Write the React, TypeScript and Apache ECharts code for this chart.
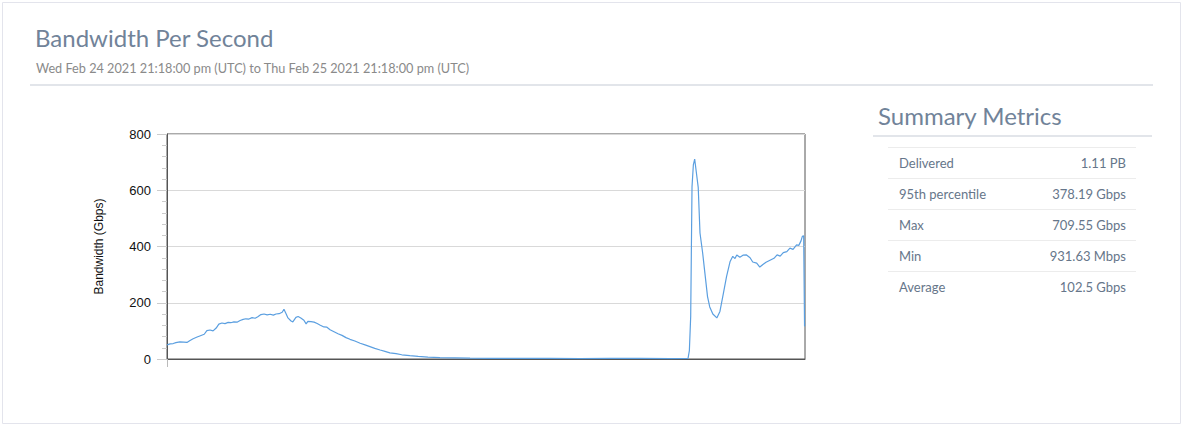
import React, { useEffect, useRef } from "react";
import * as echarts from "echarts";

const TITLE = "Bandwidth Per Second";
const SUBTITLE = "Wed Feb 24 2021 21:18:00 pm (UTC) to Thu Feb 25 2021 21:18:00 pm (UTC)";
const Y_NAME = "Bandwidth (Gbps)";
const START = Date.UTC(2021, 1, 24, 21, 18, 0);
const END = Date.UTC(2021, 1, 25, 21, 18, 0);

// minutes after START
const offsetsMin = [
  0, 7, 14, 20, 29, 38, 45, 52, 59, 68, 74, 84, 90, 97, 104, 111, 117, 124, 131, 138,
  144, 151, 158, 165, 172, 178, 185, 192, 199, 205, 212, 219, 226, 233, 240, 246, 253, 260, 264, 269,
  273, 280, 284, 291, 296, 302, 309, 314, 318, 325, 332, 339, 345, 354, 361, 368, 377, 386, 395, 404,
  413, 424, 436, 447, 458, 469, 481, 492, 503, 517, 530, 548, 567, 589, 616, 650, 684, 729, 797, 864,
  932, 1000, 1068, 1135, 1176, 1179, 1182, 1185, 1188, 1191, 1194, 1199, 1203, 1209, 1214, 1220, 1225, 1232, 1241, 1248,
  1256, 1263, 1271, 1277, 1282, 1286, 1293, 1300, 1308, 1316, 1322, 1331, 1338, 1345, 1352, 1361, 1370, 1377, 1384, 1391,
  1399, 1406, 1413, 1421, 1426, 1431, 1434, 1437, 1439,
];

// Gbps
const bandwidthGbps = [
  50, 54, 55, 58, 61, 60, 59, 66, 72, 78, 82, 88, 101, 103, 100, 110, 124, 128, 126, 130,
  129, 132, 131, 137, 141, 143, 142, 147, 145, 150, 158, 160, 157, 159, 156, 160, 161, 166, 177, 160,
  146, 135, 132, 148, 151, 146, 138, 125, 134, 133, 131, 126, 121, 114, 113, 104, 97, 90, 84, 76,
  70, 64, 56, 50, 44, 38, 32, 27, 22, 19, 15, 12, 9, 7, 5, 4, 3, 2, 2, 2,
  1.5, 2, 2, 1.5, 2, 30, 151, 613, 690, 711, 673, 610, 448, 377, 306, 222, 185, 160, 146, 169,
  235, 294, 347, 365, 357, 370, 362, 369, 370, 360, 345, 341, 327, 336, 344, 351, 358, 370, 366, 378,
  382, 394, 390, 406, 404, 420, 436, 438, 116,
];

const metricLabels = ["Delivered", "95th percentile", "Max", "Min", "Average"];
const metricValues = ["1.11 PB", "378.19 Gbps", "709.55 Gbps", "931.63 Mbps", "102.5 Gbps"];

export default function App() {
  const ref = useRef<HTMLDivElement>(null);

  useEffect(() => {
    document.body.style.margin = "0";
    if (!ref.current) return;
    const chart = echarts.init(ref.current, null, { renderer: "svg" });

    const seriesData = offsetsMin.map((m, i) => [START + m * 60000, bandwidthGbps[i]]);

    const headColor = "#718399";
    const textColor = "#66768a";
    const graphics: any[] = [
      {
        type: "rect",
        shape: { x: 2.5, y: 2.5, width: 1178, height: 421 },
        style: { fill: "#fff", stroke: "#e3e4ec", lineWidth: 1 },
        z: -10,
      },
      {
        type: "text",
        style: {
          text: TITLE, x: 35, y: 37, fill: headColor,
          fontFamily: "Lato", fontSize: 24, textVerticalAlign: "middle",
        },
      },
      {
        type: "text",
        style: {
          text: SUBTITLE, x: 36, y: 68, fill: "#8a8a8a",
          fontFamily: "Lato", fontSize: 12.7, textVerticalAlign: "middle",
        },
      },
      {
        type: "rect",
        shape: { x: 30, y: 84, width: 1123, height: 2 },
        style: { fill: "#e2e5ea" },
      },
      {
        type: "text",
        style: {
          text: "Summary Metrics", x: 878, y: 115, fill: headColor,
          fontFamily: "Lato", fontSize: 24, textVerticalAlign: "middle",
        },
      },
      {
        type: "rect",
        shape: { x: 873, y: 135, width: 279, height: 2 },
        style: { fill: "#e2e5ea" },
      },
    ];
    metricLabels.forEach((lab, i) => {
      const top = 147 + i * 31;
      graphics.push({
        type: "line",
        shape: { x1: 888, y1: top + 0.5, x2: 1136, y2: top + 0.5 },
        style: { stroke: "#ececec", lineWidth: 1 },
      });
      graphics.push({
        type: "text",
        style: {
          text: lab, x: 899, y: top + 16, fill: textColor,
          fontFamily: "Lato", fontSize: 13, textVerticalAlign: "middle",
        },
      });
      graphics.push({
        type: "text",
        style: {
          text: metricValues[i], x: 1126, y: top + 16, fill: textColor,
          fontFamily: "Lato", fontSize: 13, textAlign: "right", textVerticalAlign: "middle",
        },
      });
    });

    chart.setOption({
      animation: false,
      textStyle: { fontFamily: "Liberation Sans" },
      graphic: graphics,
      grid: {
        left: 167, top: 134, width: 638, height: 225,
        show: true, borderColor: "#555", borderWidth: 1, backgroundColor: "transparent",
      },
      xAxis: {
        type: "time",
        min: START,
        max: END,
        axisLine: { show: true, lineStyle: { color: "#555" } },
        axisLabel: { show: false },
        axisTick: { show: true, customValues: [START], length: 8, lineStyle: { color: "#bbb" } },
        splitLine: { show: false },
      },
      yAxis: {
        type: "value",
        min: 0,
        max: 800,
        interval: 200,
        name: Y_NAME,
        nameLocation: "middle",
        nameGap: 62,
        nameRotate: 90,
        nameTextStyle: { color: "#111", fontSize: 12, fontFamily: "Liberation Sans" },
        axisLine: { show: true, lineStyle: { color: "#555" } },
        axisTick: { show: true, length: 10, lineStyle: { color: "#ccc" } },
        minorTick: { show: true, splitNumber: 5, length: 5, lineStyle: { color: "#ccc" } },
        axisLabel: { color: "#111", fontSize: 13, margin: 16, fontFamily: "Liberation Sans" },
        splitLine: { show: true, lineStyle: { color: "#d9d9d9" } },
      },
      series: [
        {
          type: "line",
          data: seriesData,
          showSymbol: false,
          lineStyle: { color: "#5b9fe0", width: 1.2 },
          itemStyle: { color: "#5b9fe0" },
        },
      ],
    });
    return () => chart.dispose();
  }, []);

  return <div ref={ref} style={{ width: 1194, height: 435 }} />;
}
